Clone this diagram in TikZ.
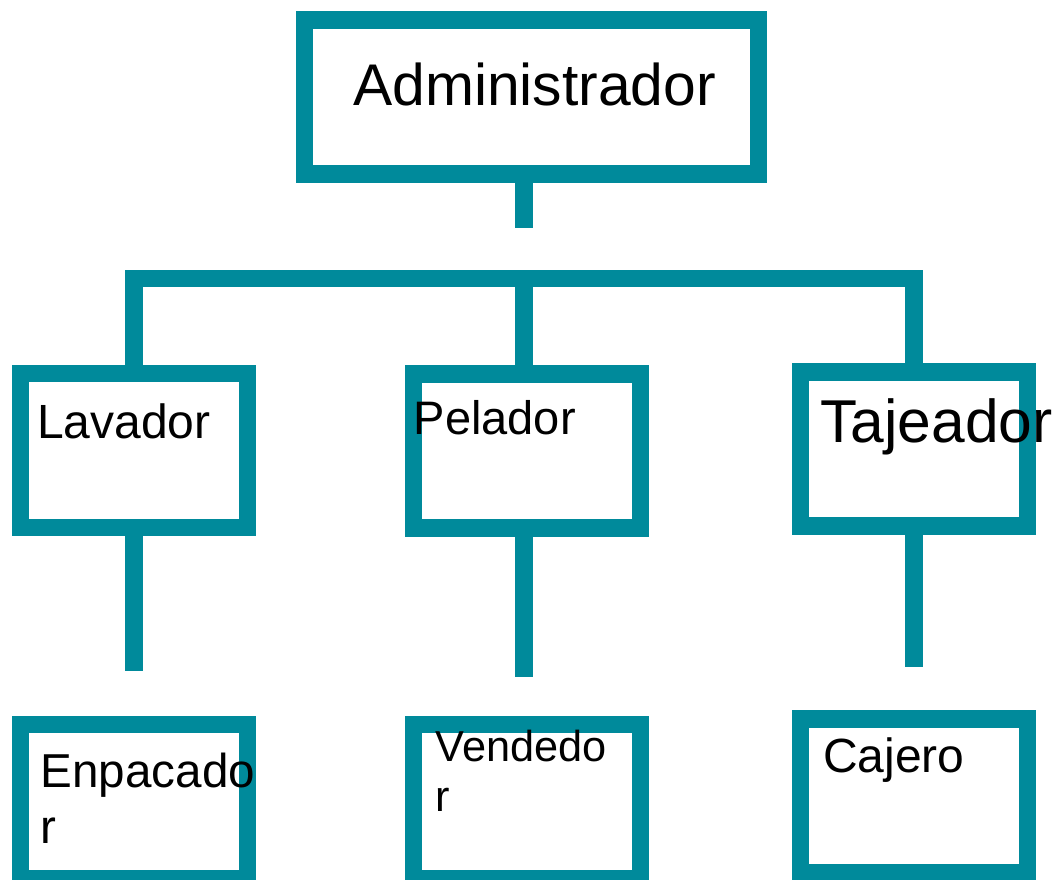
\documentclass[tikz,border=0pt]{standalone}
\usepackage{fontspec}
\setmainfont{Liberation Sans}
\definecolor{orgteal}{RGB}{0,138,155}
\tikzstyle{orgbox} = [draw=orgteal, line width=17.5pt, rectangle, minimum width=227pt, minimum height=154pt, inner sep=0pt]
\tikzstyle{orglink} = [draw=orgteal, line width=17.5pt, line cap=butt, line join=miter]
\tikzstyle{orgtext} = [anchor=base west, inner sep=0pt, align=left]
\newcommand{\orgsize}[2]{\fontsize{#1}{#2}\selectfont}

\begin{document}
\begin{tikzpicture}[x=1pt, y=-1pt]
\fill[white] (0,0) rectangle (1059,879);
\useasboundingbox (0,0) rectangle (1059,879);
% boxes
\node[orgbox, minimum width=454pt] (adm) at (531.5,97.2) {};
\node[orgbox] (lav) at (133.8,450.5) {};
\node[orgbox] (pel) at (527.2,451) {};
\node[orgbox] (taj) at (913.8,449.2) {};
\node[orgbox] (enp) at (133.8,801.6) {};
\node[orgbox] (ven) at (527.2,801.6) {};
\node[orgbox] (caj) at (913.8,796) {};

% links
\coordinate (stub) at (524,228);
\coordinate (bar) at (524,278.7);
\coordinate (lav-end) at (133.8,671);
\coordinate (pel-end) at (524,677.3);
\coordinate (taj-end) at (913.8,667.3);
\draw[orglink] (adm.south -| stub) -- (stub);
\draw[orglink] (lav.north) -- (lav.north |- bar) -- (taj.north |- bar) -- (taj.north);
\draw[orglink] (bar) -- (bar |- pel.north);
\draw[orglink] (lav.south) -- (lav-end);
\draw[orglink] (pel.south -| pel-end) -- (pel-end);
\draw[orglink] (taj.south) -- (taj-end);

% labels (base of the last line)
\node[orgtext, font=\orgsize{58.8}{69}] (adm-t) at (353,105) {Administrador};
\node[orgtext, font=\orgsize{48}{56}] (lav-t) at (37,438.3) {Lavador};
\node[orgtext, font=\orgsize{47}{55}] (pel-t) at (413.5,434.3) {Pelador};
\node[orgtext, font=\orgsize{60.5}{70}] (taj-t) at (820.4,442.7) {Tajeador};
\node[orgtext, font=\orgsize{47.6}{55.7}] (enp-t) at (40.5,843.4) {Enpacado\\r};
\node[orgtext, font=\orgsize{43.3}{50}] (ven-t) at (435.5,811.7) {Vendedo\\r};
\node[orgtext, font=\orgsize{48}{56}] (caj-t) at (823,772.7) {Cajero};
\end{tikzpicture}
\end{document}
